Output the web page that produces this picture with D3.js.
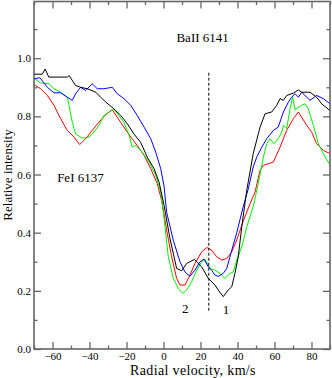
<!DOCTYPE html>
<html><head><meta charset="utf-8">
<script src="https://cdn.jsdelivr.net/npm/d3@7"></script>
<style>body{margin:0;background:#fff}svg{display:block}text{font-family:"Liberation Serif","Times New Roman","DejaVu Serif",serif}</style>
</head><body>
<svg id="c" width="332" height="378"></svg>
<script>
// Data: [radial velocity km/s, relative intensity]
const black = [[-70,0.945],[-65.5,0.945],[-64,0.963],[-62,0.935],[-52,0.935],[-51,0.94],[-47.5,0.906],[-44.8,0.90],[-41.2,0.895],[-36.6,0.883],[-34,0.866],[-31.2,0.849],[-26.8,0.826],[-23.1,0.803],[-19.6,0.775],[-16,0.74],[-12.3,0.71],[-8.8,0.66],[-5.1,0.62],[-2.4,0.574],[0.3,0.494],[3.5,0.38],[7.1,0.277],[9.8,0.269],[12.5,0.294],[14.3,0.30],[16.7,0.308],[17.9,0.30],[20.6,0.283],[24.2,0.243],[27.8,0.22],[29.6,0.203],[32.3,0.18],[35,0.203],[36.9,0.214],[38.6,0.26],[40.4,0.317],[42.3,0.42],[45,0.546],[48.5,0.672],[52.2,0.763],[54.9,0.809],[58.5,0.815],[61.2,0.838],[63,0.861],[64.8,0.855],[66.6,0.872],[70.2,0.88],[72.9,0.891],[74.7,0.883],[79.2,0.883],[82.8,0.866],[85.5,0.843],[90,0.82]];
const blue = [[-70,0.929],[-66.8,0.933],[-62.8,0.90],[-59.2,0.881],[-55.6,0.881],[-52,0.866],[-49.3,0.855],[-47.5,0.878],[-44.8,0.90],[-42.1,0.889],[-38.5,0.912],[-35.8,0.895],[-32.2,0.895],[-27.7,0.90],[-25,0.878],[-21.4,0.861],[-17.7,0.838],[-14.2,0.803],[-10.5,0.763],[-6.9,0.723],[-4.2,0.677],[-1.5,0.62],[0.3,0.56],[1.7,0.47],[5.3,0.374],[8.9,0.30],[11.6,0.265],[14.3,0.25],[17,0.271],[19.7,0.30],[21.9,0.309],[24.2,0.283],[26,0.271],[27.8,0.254],[29.6,0.25],[32.3,0.26],[34.2,0.277],[35.9,0.317],[39.6,0.40],[43.1,0.49],[45.8,0.55],[48.5,0.626],[50.4,0.66],[53.1,0.694],[55.8,0.723],[59.4,0.752],[62,0.763],[64.8,0.815],[67.5,0.849],[69.3,0.866],[71.1,0.878],[72.9,0.866],[74.7,0.883],[79.2,0.855],[82.8,0.872],[86.4,0.861],[90,0.843]];
const green = [[-70,0.931],[-66.4,0.915],[-61.9,0.912],[-59.2,0.895],[-55.6,0.883],[-52,0.866],[-51.1,0.838],[-49.3,0.78],[-47.5,0.74],[-43.9,0.725],[-40.3,0.729],[-37.6,0.746],[-34.9,0.769],[-32.2,0.803],[-29.5,0.815],[-26.8,0.824],[-24.1,0.803],[-21.4,0.78],[-18.6,0.735],[-16.9,0.694],[-15,0.70],[-11.5,0.677],[-7.8,0.643],[-4.2,0.597],[-1.5,0.54],[0.3,0.45],[2.6,0.317],[5.3,0.243],[8,0.208],[10.4,0.191],[12.5,0.203],[15.2,0.231],[17.9,0.271],[20.6,0.30],[22.4,0.309],[25.1,0.277],[27.8,0.271],[30.5,0.26],[33.2,0.243],[35.9,0.26],[37.7,0.265],[39.6,0.306],[42.3,0.351],[45,0.42],[48.5,0.49],[51.2,0.569],[54,0.66],[55.8,0.706],[57.6,0.723],[59.7,0.706],[62,0.723],[63.9,0.746],[64.8,0.769],[66.6,0.758],[68.4,0.826],[69.8,0.866],[71.1,0.823],[74.7,0.838],[76.5,0.843],[78.3,0.826],[81,0.769],[83.7,0.706],[86.4,0.672],[90,0.632]];
const red = [[-70,0.909],[-66.4,0.895],[-62.8,0.872],[-59.2,0.838],[-55.6,0.792],[-52,0.752],[-48.4,0.729],[-45.3,0.703],[-42.1,0.723],[-38.5,0.752],[-34.9,0.78],[-31.2,0.806],[-27.7,0.823],[-25,0.797],[-21.4,0.763],[-17.7,0.729],[-14.2,0.70],[-10.5,0.666],[-6.9,0.62],[-3.4,0.569],[-1,0.511],[1.7,0.409],[4.4,0.317],[7.1,0.243],[8.9,0.22],[11.6,0.22],[14.3,0.254],[17,0.294],[20.6,0.334],[23.4,0.349],[26,0.34],[28.8,0.317],[31.5,0.306],[34.2,0.311],[36.9,0.334],[39.6,0.375],[43.1,0.44],[46.8,0.50],[49.5,0.54],[52.2,0.614],[54,0.632],[56.6,0.637],[59.4,0.643],[63,0.694],[66.6,0.752],[70.2,0.792],[72.9,0.815],[74.7,0.797],[77.4,0.769],[80.1,0.746],[82.8,0.706],[86.4,0.683],[90,0.672]];
const xTicks = [-60,-40,-20,0,20,40,60,80];
const yTicks = [0.0,0.2,0.4,0.6,0.8,1.0];
const xMinor = [-70,-50,-30,-10,10,30,50,70,90];
const yMinor = [0.1,0.3,0.5,0.7,0.9,1.1];
const dashV = 24.5, dashTop = 0.95, dashBot = 0.125;
const labels = [{t:"BaII 6141", v:7, i:1.055},{t:"FeI 6137", v:-57.5, i:0.575},{t:"2", v:10, i:0.125},{t:"1", v:32, i:0.12}];

const svg = d3.select("#c");
const L=34, R=330, T=1.5, B=349;
const x = d3.scaleLinear().domain([-70,90]).range([L,R]);
const y = d3.scaleLinear().domain([0,1.195]).range([B,T]);
const font = '"Liberation Serif","Times New Roman","DejaVu Serif",serif';

svg.append("defs").append("clipPath").attr("id","clip")
  .append("rect").attr("x",L).attr("y",T).attr("width",R-L).attr("height",B-T);

const line = d3.line().x(d=>x(d[0])).y(d=>y(d[1]));
const g = svg.append("g").attr("clip-path","url(#clip)");
[[red,"#ff0000"],[green,"#00ee00"],[blue,"#0000ff"],[black,"#000000"]].forEach(([d,c])=>{
  g.append("path").datum(d).attr("d",line).attr("fill","none").attr("stroke",c).attr("stroke-width",1);
});

// dashed line
svg.append("line").attr("x1",x(dashV)).attr("x2",x(dashV)).attr("y1",y(dashTop)).attr("y2",y(dashBot))
  .attr("stroke","#000").attr("stroke-width",1).attr("stroke-dasharray","3,2");

// axes
const axCol="#666";
const axBottom = svg.append("g").attr("transform",`translate(0,${B})`)
  .call(d3.axisBottom(x).tickValues(xTicks).tickSize(-7).tickFormat(d3.format("d")));
const axBottomMin = svg.append("g").attr("transform",`translate(0,${B})`)
  .call(d3.axisBottom(x).tickValues(xMinor).tickSize(-3.5).tickFormat(""));
const axTop = svg.append("g").attr("transform",`translate(0,${T})`)
  .call(d3.axisTop(x).tickValues(xTicks).tickSize(-7).tickFormat(""));
const axTopMin = svg.append("g").attr("transform",`translate(0,${T})`)
  .call(d3.axisTop(x).tickValues(xMinor).tickSize(-3.5).tickFormat(""));
const axLeft = svg.append("g").attr("transform",`translate(${L},0)`)
  .call(d3.axisLeft(y).tickValues(yTicks).tickSize(-7).tickFormat(d3.format(".1f")));
const axLeftMin = svg.append("g").attr("transform",`translate(${L},0)`)
  .call(d3.axisLeft(y).tickValues(yMinor).tickSize(-3.5).tickFormat(""));
const axRight = svg.append("g").attr("transform",`translate(${R},0)`)
  .call(d3.axisRight(y).tickValues(yTicks).tickSize(-7).tickFormat(""));
const axRightMin = svg.append("g").attr("transform",`translate(${R},0)`)
  .call(d3.axisRight(y).tickValues(yMinor).tickSize(-3.5).tickFormat(""));
[axBottom,axBottomMin,axTop,axTopMin,axLeft,axLeftMin,axRight,axRightMin].forEach(a=>{
  a.attr("font-family",font).attr("font-size",11);
  a.select(".domain").remove();
  a.selectAll("line").attr("stroke",axCol).attr("stroke-width",1.3);
  a.selectAll("text").style("font-family",font).style("font-size","11px").attr("fill","#000");
});
axBottom.selectAll("text").attr("dy",0).attr("y",11);
axLeft.selectAll("text").attr("x",-3).attr("dy","0.32em");
svg.append("rect").attr("x",L).attr("y",T).attr("width",R-L).attr("height",B-T)
  .attr("fill","none").attr("stroke",axCol).attr("stroke-width",1.6);

// annotations
labels.forEach(l=>{
  svg.append("text").attr("x",x(l.v)).attr("y",y(l.i)).style("font-family",font).style("font-size","13px")
    .attr("fill","#000").text(l.t);
});
svg.append("text").attr("x",193).attr("y",375).attr("text-anchor","middle")
  .style("font-family",font).style("font-size","14px").style("letter-spacing","0.35px")
  .attr("fill","#000").text("Radial velocity, km/s");
svg.append("text").attr("transform",`translate(12,175) rotate(-90)`).attr("text-anchor","middle")
  .style("font-family",font).style("font-size","13px").attr("fill","#000").text("Relative intensity");
</script>
</body></html>
